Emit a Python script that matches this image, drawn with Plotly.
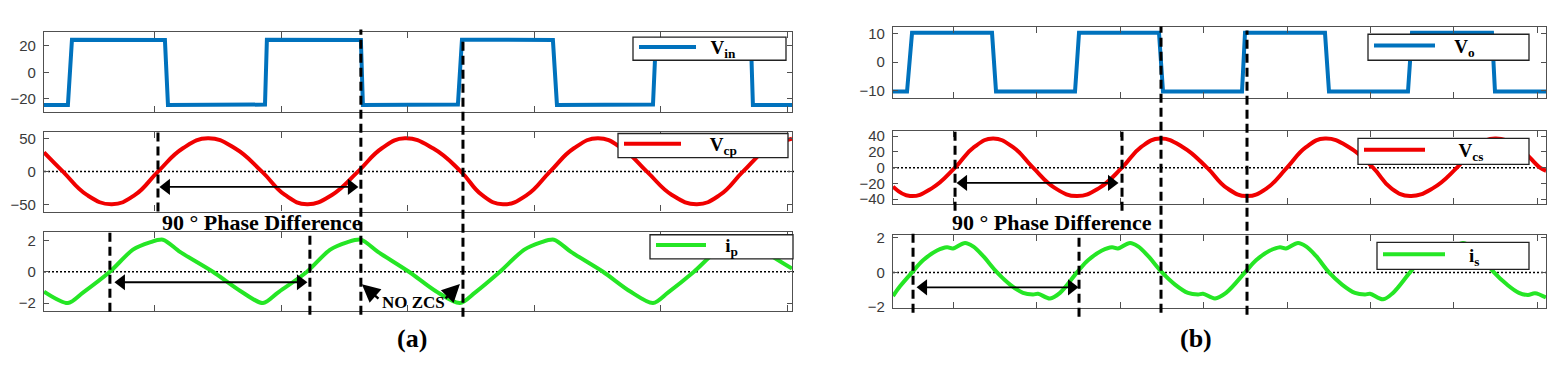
import plotly.graph_objects as go

# ---------------- data: panel (a) ----------------
# time axis in tick units (one x tick = 1 unit)
a_vin_t = [-0.877, -0.688, -0.656, 0.079, 0.103, 0.870, 0.885, 1.628, 1.644, 2.395, 2.427,
           3.146, 3.178, 3.937, 3.960, 4.711, 4.727, 5.036]
a_vin_v = [-24.5, -24.5, 24.5, 24.2, -24.5, -24.2, 24.5, 24.2, -24.5, -24.2, 24.5,
           24.2, -24.5, -24.2, 24.5, 24.2, -24.5, -24.5]

a_vcp_t = [-0.877, -0.727, -0.538, -0.340, -0.158, 0.024, 0.221, 0.419, 0.632, 0.846, 1.028,
           1.202, 1.399, 1.605, 1.794, 1.976, 2.198, 2.419, 2.585, 2.751, 2.941, 3.123,
           3.312, 3.502, 3.692, 3.889, 4.087, 4.285, 4.466, 4.648, 4.846, 5.036]
a_vcp_v = [29, 0, -35, -49, -35, 0, 35, 50, 35, 0, -35,
           -49, -35, 0, 35, 50, 35, 0, -35, -49, -35, 0,
           35, 50, 35, 0, -35, -49, -35, 0, 35, 49.5]

a_ip_t = [-0.877, -0.688, -0.569, -0.356, -0.174, -0.040, 0.063, 0.198, 0.458, 0.672, 0.854,
          0.972, 1.202, 1.383, 1.518, 1.628, 1.763, 2.008, 2.221, 2.411, 2.530, 2.727,
          2.917, 3.051, 3.154, 3.289, 3.542, 3.755, 3.937, 4.055, 4.261, 4.451, 4.585,
          4.688, 4.822, 5.036]
a_ip_v = [-1.27, -2.0, -1.33, 0, 1.41, 1.88, 2.05, 1.27, 0, -1.21, -2.0,
          -1.33, 0, 1.4, 1.88, 2.05, 1.27, 0, -1.25, -2.0, -1.33, 0,
          1.4, 1.88, 2.05, 1.27, 0, -1.25, -2.0, -1.33, 0, 1.4, 1.88,
          2.05, 1.27, 0.2]

a_dash_t = [0.024, 1.628, 2.435, -0.356, 1.225]      # vertical dashed markers
a_arrow_mid = [0.091, 1.553, -23]                    # start t, end t, level
a_arrow_bot = [-0.265, 1.150, -0.67]
a_nozcs_arrows = [[1.779, -1.80, 1.636, -0.80],      # tail t, tail v, head t, head v
                  [2.285, -1.80, 2.411, -0.78]]

# ---------------- data: panel (b) ----------------
b_vo_t = [-0.719, -0.551, -0.491, 0.467, 0.515, 1.461, 1.509, 2.467, 2.515, 3.461, 3.497,
          4.455, 4.503, 5.449, 5.497, 6.455, 6.491, 7.102]
b_vo_v = [-10.3, -10.3, 10.3, 10.3, -10.3, -10.3, 10.3, 10.3, -10.3, -10.3, 10.3,
          10.3, -10.3, -10.3, 10.3, 10.3, -10.3, -10.3]

b_vcs_t = [-0.719, -0.515, -0.251, 0.024, 0.251, 0.479, 0.719, 0.958, 1.222, 1.485, 1.749,
           2.024, 2.251, 2.479, 2.754, 3.042, 3.281, 3.521, 3.760, 4.000, 4.228, 4.455,
           4.743, 5.030, 5.246, 5.473, 5.749, 6.036, 6.263, 6.491, 6.766, 7.030, 7.102]
b_vcs_v = [-24, -36, -26, 0, 26, 37, 26, 0, -26, -36, -26,
           0, 26, 37, 26, 0, -26, -36, -26, 0, 26, 37,
           26, 0, -26, -36, -26, 0, 26, 37, 26, 0, -4]

b_is_t = [-0.719, -0.635, -0.491, -0.359, -0.192, -0.072, 0.000, 0.144, 0.240, 0.359, 0.527,
          0.683, 0.838, 0.958, 1.018, 1.162, 1.281, 1.485, 1.617, 1.784, 1.904, 1.976,
          2.120, 2.216, 2.335, 2.503, 2.659, 2.814, 2.934, 2.994, 3.138, 3.269, 3.497,
          3.629, 3.796, 3.916, 3.988, 4.132, 4.228, 4.347, 4.503, 4.659, 4.814, 4.934,
          4.994, 5.150, 5.269, 5.473, 5.605, 5.772, 5.892, 5.964, 6.108, 6.204, 6.323,
          6.479, 6.635, 6.778, 6.886, 6.970, 7.102]
b_is_v = [-1.36, -0.8, 0, 0.7, 1.26, 1.45, 1.38, 1.7, 1.5, 0.95, 0,
          -0.7, -1.18, -1.27, -1.23, -1.5, -1.18, 0, 0.7, 1.26, 1.45, 1.38,
          1.7, 1.5, 0.95, 0, -0.7, -1.18, -1.27, -1.23, -1.5, -1.18, 0,
          0.7, 1.26, 1.45, 1.38, 1.7, 1.5, 0.95, 0, -0.7, -1.18, -1.27,
          -1.23, -1.55, -1.18, 0, 0.7, 1.26, 1.45, 1.38, 1.7, 1.5, 0.95,
          0, -0.7, -1.18, -1.3, -1.2, -1.45]

b_dash_t = [0.024, 2.024, 2.491, 3.521, -0.479, 1.509]
b_arrow_mid = [0.126, 1.898, -19.4]
b_arrow_bot = [-0.353, 1.419, -0.86]

a_yticks = [[-20, 0, 20], [-50, 0, 50], [-2, 0, 2]]
b_yticks = [[-10, 0, 10], [-40, -20, 0, 20, 40], [-2, 0, 2]]
names = ["<b>V<sub>in</sub></b>", "<b>V<sub>cp</sub></b>", "<b>i<sub>p</sub></b>",
         "<b>V<sub>o</sub></b>", "<b>V<sub>cs</sub></b>", "<b>i<sub>s</sub></b>"]

# ---------------- layout helpers ----------------
# the page body has an 8px margin, so the figure is 16px smaller than the window
OFF = 8
W, H = 1560 - 2 * OFF, 376 - 2 * OFF
def fx(p): return (p - OFF) / W
def fy(p): return 1 - (p - OFF) / H

BLUE, RED, GREEN = "#0072BD", "#f00000", "#25e625"
FRAME = "#505050"
SERIF = "Liberation Serif"
LEG_FONT = 19
NB = "\u00a0"
# legend geometry: box (left, top, right, bottom) px, sample-line width, extra text gap (nbsp count)
leg_box = [(633, 32, 786, 56), (618, 132, 788, 157), (650, 237, 793, 262),
           (1368, 29, 1529, 56), (1358, 137, 1529, 164), (1377, 245, 1529, 273)]
leg_line = [57, 57, 50, 61, 61, 62]
leg_gap = [2, 5, 3, 3, 6, 4]

fig = go.Figure()
series = [
    (a_vin_t, a_vin_v, BLUE, "linear", 0), (a_vcp_t, a_vcp_v, RED, "spline", 1.3),
    (a_ip_t, a_ip_v, GREEN, "spline", 0.8),
    (b_vo_t, b_vo_v, BLUE, "linear", 0), (b_vcs_t, b_vcs_v, RED, "spline", 1.3),
    (b_is_t, b_is_v, GREEN, "spline", 1.0),
]
for i, (t, v, c, shp, sm) in enumerate(series):
    k = "" if i == 0 else str(i + 1)
    ln = dict(color=c, width=4, shape=shp)
    if shp == "spline":
        ln["smoothing"] = sm
    fig.add_trace(go.Scatter(x=t, y=v, mode="lines", name=NB * leg_gap[i] + names[i], line=ln,
                             xaxis="x" + k, yaxis="y" + k, legend="legend" + k))

# double-headed horizontal arrows
for arr, k in [(a_arrow_mid, "2"), (a_arrow_bot, "3"), (b_arrow_mid, "5"), (b_arrow_bot, "6")]:
    t0, t1, lv = arr
    fig.add_trace(go.Scatter(x=[t0, t1], y=[lv, lv], mode="lines+markers", showlegend=False,
                             hoverinfo="skip", line=dict(color="black", width=1.8),
                             marker=dict(symbol=["triangle-left", "triangle-right"], size=14,
                                         color="black", line=dict(width=0)),
                             xaxis="x" + k, yaxis="y" + k))

# axes geometry in window px
xdom = {"a": (44, 792), "b": (893, 1546)}
ydom = [(27, 110), (130, 213), (234, 316), (21, 95), (129, 205), (237, 313)]
yr = [(-30, 30), (-60, 60), (-2.5, 2.55), (-12.5, 12.5), (-46, 47), (-2.05, 2.17)]
xr = {"a": (-0.877, 5.036), "b": (-0.719, 7.102)}
yt = a_yticks + b_yticks

lay = {}
for i in range(6):
    p = "a" if i < 3 else "b"
    k = "" if i == 0 else str(i + 1)
    x0, x1 = xdom[p]
    y0, y1 = ydom[i]
    lay["xaxis" + k] = dict(domain=[fx(x0), fx(x1)], range=list(xr[p]), anchor="y" + k,
                           showline=True, linecolor=FRAME, linewidth=1.3, mirror="ticks",
                           ticks="inside", ticklen=6, tickcolor=FRAME, dtick=1, tick0=0,
                           showticklabels=False, showgrid=False, zeroline=False)
    lay["yaxis" + k] = dict(domain=[fy(y1), fy(y0)], range=list(yr[i]), anchor="x" + k,
                           showline=True, linecolor=FRAME, linewidth=1.3, mirror="ticks",
                           ticks="inside", ticklen=5, tickcolor=FRAME, tickvals=yt[i],
                           tickfont=dict(family="Liberation Sans", size=15, color="#3a3a3a"),
                           ticklabelstandoff=4, showgrid=False, zeroline=False)
fig.update_layout(**lay)

shapes = []
for i, (l, t, r, b) in enumerate(leg_box):
    k = "" if i == 0 else str(i + 1)
    shapes.append(dict(type="rect", xref="paper", yref="paper", x0=fx(l), x1=fx(r), y0=fy(b), y1=fy(t),
                       fillcolor="white", line=dict(color="#222", width=1.3), layer="above"))
    cy = (t + b) / 2
    fig.update_layout(**{"legend" + k: dict(
        x=fx(l + 1), y=fy(cy - (9 + LEG_FONT * 1.3 / 2)), xanchor="left", yanchor="top",
        bgcolor="rgba(0,0,0,0)", borderwidth=0, itemwidth=leg_line[i],
        font=dict(family=SERIF, size=LEG_FONT, color="black"), tracegroupgap=0)})

# zero dotted lines
for k in ["2", "3", "5", "6"]:
    shapes.append(dict(type="line", xref="x" + k + " domain", yref="y" + k, x0=0, x1=1.003, y0=0, y1=0,
                       line=dict(color="black", width=1.5, dash="2px,2px"), layer="below"))
# dashed vertical markers (spans in window px)
a_spans = [(131, 213), (24, 320), (33, 322), (235, 317), (237, 320)]
b_spans = [(130, 212), (130, 212), (21, 318), (25, 320), (235, 318), (238, 322)]
for t, (top, bot) in zip(a_dash_t, a_spans):
    shapes.append(dict(type="line", xref="x", yref="paper", x0=t, x1=t, y0=fy(bot), y1=fy(top),
                       line=dict(color="black", width=3, dash="9px,5px"), layer="above"))
for t, (top, bot) in zip(b_dash_t, b_spans):
    shapes.append(dict(type="line", xref="x4", yref="paper", x0=t, x1=t, y0=fy(bot), y1=fy(top),
                       line=dict(color="black", width=3, dash="9px,5px"), layer="above"))
fig.update_layout(shapes=shapes)

def label(cx, cy, txt, size):
    return dict(x=fx(cx), y=fy(cy), xref="paper", yref="paper", xanchor="center", yanchor="middle",
                text="<b>" + txt + "</b>", showarrow=False, font=dict(family=SERIF, size=size, color="black"))
ann = [label(413, 307, "NO ZCS", 17),
       label(262, 224, "90 ° Phase Difference", 22),
       label(1052, 224, "90 ° Phase Difference", 22),
       label(412, 345, "(a)", 26),
       label(1196, 345, "(b)", 26)]
# "NO ZCS" pointer arrows (tail -> head, in data coordinates of the lower-left axes)
for tt, tv, ht, hv in a_nozcs_arrows:
    ann.append(dict(x=ht, y=hv, ax=tt, ay=tv, xref="x3", yref="y3", axref="x3", ayref="y3",
                    text="", showarrow=True, arrowhead=2, arrowwidth=2.4, arrowsize=1.5,
                    arrowcolor="black"))
fig.update_layout(annotations=ann)

fig.update_layout(width=W, height=H, margin=dict(l=0, r=0, t=0, b=0),
                  paper_bgcolor="white", plot_bgcolor="white", showlegend=True)
fig.write_html("out.html")
